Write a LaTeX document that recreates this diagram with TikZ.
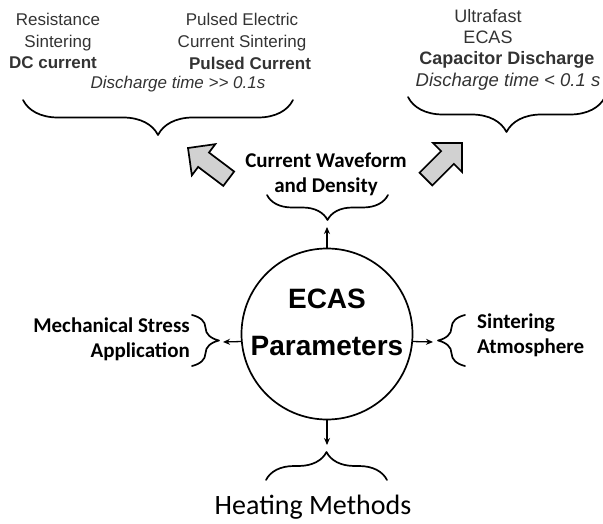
\documentclass[tikz,border=0pt]{standalone}
\usepackage{fontspec}
\setmainfont{Liberation Sans}
\newfontfamily\carlito{Carlito}
\usetikzlibrary{arrows.meta,positioning,decorations.pathreplacing}

\tikzset{
  gray text/.style={text=black!80, align=center, inner sep=0pt},
  label text/.style={font=\carlito\bfseries\fontsize{21}{25}\selectfont, inner sep=0pt},
  curly/.style={decorate, decoration={brace, amplitude=#1pt}, line width=1.7pt},
  link/.style={-{Stealth[length=7pt,width=6pt]}, line width=1.3pt},
  fat arrow/.style={fill=black!18, draw=black, line width=1.7pt, line join=miter},
}

\begin{document}
\begin{tikzpicture}[x=1pt, y=-1pt, line join=round, line cap=round]
    \useasboundingbox (0,0) rectangle (603,524);
    % slow methods
    \node[gray text, font=\fontsize{17}{22}\selectfont] (rs) at (58,32) {Resistance\\Sintering};
    \node[gray text, font=\fontsize{17}{22}\selectfont] (dc) at (53,63) {\bfseries DC current};
    \node[gray text, font=\fontsize{17}{22}\selectfont] (pe) at (242,32) {Pulsed Electric\\Current Sintering};
    \node[gray text, font=\fontsize{17}{22}\selectfont] (pc) at (250,63) {\bfseries Pulsed Current};
    \node[gray text, font=\fontsize{17}{22}\selectfont] (dts) at (178,84) {\itshape Discharge time >\kern0pt> 0.1s};
    \coordinate (slowL) at (23,100);
    \coordinate (slowR) at (293,100);
    \draw[curly=35] (slowR) -- (slowL);
    % fast methods
    \node[gray text, font=\fontsize{18}{21}\selectfont] (uf) at (488,27) {Ultrafast\\ECAS};
    \node[gray text, font=\fontsize{18}{21}\selectfont] (cd) at (507,60) {\bfseries Capacitor Discharge};
    \node[gray text, font=\fontsize{18.5}{21}\selectfont] (dtf) at (508,82) {\itshape Discharge time < 0.1 s};
    \coordinate (fastL) at (408,97);
    \coordinate (fastR) at (605,97);
    \draw[curly=35] (fastR) -- (fastL);
    % block arrows
    \draw[fat arrow, shift={(188,148)}, rotate=143]
      (0,0) -- (-19.5,-19.5) -- (-19.5,-9) -- (-51,-9) -- (-51,9) -- (-19.5,9) -- (-19.5,19.5) -- cycle;
    \draw[fat arrow, shift={(462,143)}, rotate=45]
      (0,0) -- (-20.5,-20.5) -- (-20.5,-9) -- (-51,-9) -- (-51,9) -- (-20.5,9) -- (-20.5,20.5) -- cycle;
    % centre
    \node[draw, circle, line width=1.7pt, minimum size=171pt, inner sep=0pt] (circ) at (327,334) {};
    \node[align=center, inner sep=0pt, font=\bfseries\fontsize{28}{47}\selectfont] (par) at (327,322) {ECAS\\Parameters};
    % top
    \node[label text, align=center] (cw) at (326,174) {Current Waveform\\and Density};
    \coordinate (cwL) at (267,195);
    \coordinate (cwR) at (388,195);
    \coordinate (cwtip) at (327,227);
    \draw[curly=25] (cwR) -- (cwL);
    \draw[link] (circ.north) -- (cwtip);
    % left
    \node[label text, align=right, anchor=east] (ms) at (190,339.5) {Mechanical Stress\\Application};
    \coordinate (msT) at (192,315);
    \coordinate (msB) at (192,366);
    \coordinate (mstip) at (223,342);
    \draw[curly=27] (msT) -- (msB);
    \draw[link] (circ.185) -- (mstip);
    % right
    \node[label text, align=left, anchor=west] (sa) at (477,335.5) {Sintering\\Atmosphere};
    \coordinate (saT) at (465,315);
    \coordinate (saB) at (465,366);
    \coordinate (satip) at (433,342);
    \draw[curly=27] (saB) -- (saT);
    \draw[link] (circ.-5) -- (satip);
    % bottom
    \coordinate (hmL) at (266,480);
    \coordinate (hmR) at (387,480);
    \coordinate (hmtip) at (327,445);
    \draw[curly=28] (hmL) -- (hmR);
    \draw[link] (circ.south) -- (hmtip);
    \node[inner sep=0pt, font=\carlito\fontsize{28}{30}\selectfont] (hm) at (313,507) {Heating Methods};
\end{tikzpicture}
\end{document}
